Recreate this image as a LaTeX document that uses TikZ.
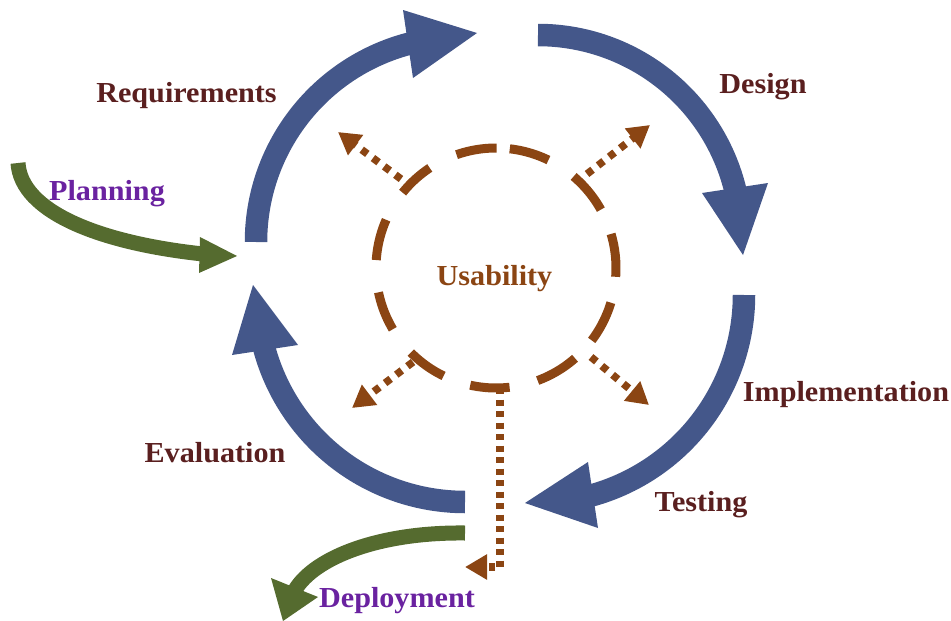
\documentclass[tikz,border=0pt]{standalone}
\usepackage{fontspec}
\setmainfont{Liberation Serif}[FakeStretch=1.04]
\usetikzlibrary{arrows.meta}
\definecolor{cycleblue}{HTML}{44578A}
\definecolor{usebrown}{HTML}{8B4513}
\definecolor{labelred}{HTML}{5A1F1F}
\definecolor{phasepurple}{HTML}{6A22A0}
\definecolor{olivegreen}{HTML}{556B2F}
\begin{document}
\begin{tikzpicture}[x=1pt,y=-1pt,
  bandblue/.style={draw=cycleblue,line width=22.5pt},
  headblue/.style={fill=cycleblue},
  bandgreen/.style={draw=olivegreen,line width=15pt},
  headgreen/.style={fill=olivegreen},
  ringdash/.style={draw=usebrown,line width=9pt},
  dotline/.style={draw=usebrown,line width=7.5pt,dash pattern=on 7pt off 7pt,
     -{Triangle[length=22pt,width=24pt]}},
  dotlinev/.style={dotline,dash pattern=on 6pt off 5.5pt},
  lbl/.style={font=\fontsize{29}{30}\selectfont\bfseries,inner sep=0pt,anchor=base},
  stage/.style={lbl,text=labelred},
  phase/.style={lbl,text=phasepurple}]
\useasboundingbox (0,0) rectangle (951,621);

% ---- blue cycle arrows ----
\draw[bandblue] plot[domain=180:258,samples=40,smooth,variable=\t] ({461+205*cos(\t)},{242+205*sin(\t)});
\fill[headblue] (403,10) -- (477,33) -- (413,78) -- cycle;

\draw[bandblue] plot[domain=270:348,samples=40,smooth,variable=\t] ({538+203*cos(\t)},{238+203*sin(\t)});
\fill[headblue] (702,193) -- (743,255) -- (768,183) -- cycle;

\draw[bandblue] plot[domain=0:77,samples=40,smooth,variable=\t] ({536+208*cos(\t)},{295+208*sin(\t)});
\fill[headblue] (588,462) -- (525,503) -- (598,528) -- cycle;

\draw[bandblue] plot[domain=90:167,samples=40,smooth,variable=\t] ({465+208*cos(\t)},{294+208*sin(\t)});
\fill[headblue] (232,355) -- (253,285) -- (298,345) -- cycle;

% ---- green arrows ----
\coordinate (pl0) at (18,163);
\coordinate (pl1) at (203,254);
\draw[bandgreen] (pl0) .. controls (21,212) and (100,243) .. (pl1);
\fill[headgreen] (200,237) -- (237,256) -- (199,273) -- cycle;

\coordinate (dp0) at (465,533);
\coordinate (dp1) at (295,590);
\draw[bandgreen] (dp0) .. controls (380,532) and (315,557) .. (dp1);
\fill[headgreen] (271,578) -- (283,621) -- (318,597) -- cycle;

% ---- usability dashed ring ----
\foreach \a/\b in {250.8/270.3,276.6/295.9,310.3/330.9,343.5/364.2,376.8/397.1,
                   408.8/429.7,443.5/462.4,475.9/495.2,509.3/528.3,543.8/563.7,578.9/596.5}
  \draw[ringdash] plot[domain=\a:\b,samples=12,smooth,variable=\t] ({496+120*cos(\t)},{268+120*sin(\t)});

% ---- dotted arrows ----
\coordinate (ul0) at (401,179); \coordinate (ul1) at (338,132);
\coordinate (ur0) at (587,174); \coordinate (ur1) at (650,125);
\coordinate (ll0) at (413,362); \coordinate (ll1) at (352,408);
\coordinate (lr0) at (591,357); \coordinate (lr1) at (649,405);
\draw[dotline] (ul0) -- (ul1);
\draw[dotline] (ur0) -- (ur1);
\draw[dotline] (ll0) -- (ll1);
\draw[dotline] (lr0) -- (lr1);
\coordinate (bt0) at (500,388); \coordinate (bt1) at (500,567); \coordinate (bt2) at (465,567);
\draw[dotlinev] (bt0) -- (bt1) -- (bt2);

% ---- labels ----
\node[stage] (req) at (186.5,102) {Requirements};
\node[stage] (des) at (763,93) {Design};
\node[stage] (imp) at (846,401) {Implementation};
\node[stage] (tes) at (701,511) {Testing};
\node[stage] (eva) at (215,462) {Evaluation};
\node[phase] (pla) at (107,200) {Planning};
\node[phase] (dep) at (397,607) {Deployment};
\node[lbl,text=usebrown] (usa) at (494.5,285) {Usability};
\end{tikzpicture}
\end{document}
